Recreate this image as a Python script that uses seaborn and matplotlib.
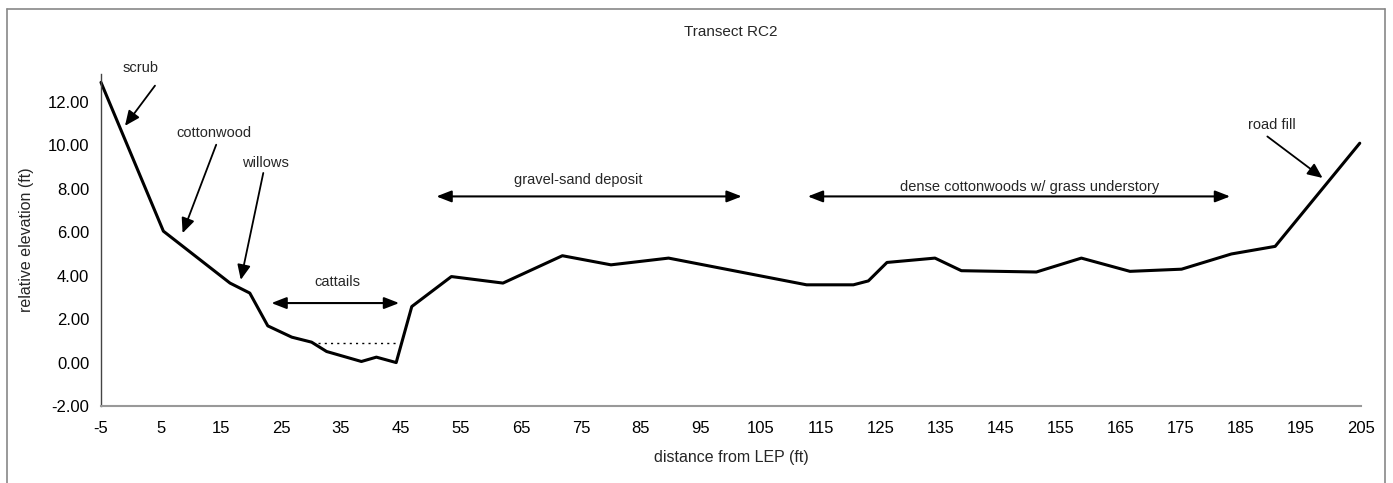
import matplotlib
matplotlib.use("Agg")
import matplotlib.pyplot as plt
import seaborn as sns
import pandas as pd
from matplotlib.lines import Line2D

# Surveyed profile along transect RC2
distance_ft = [-5, 5.4, 16.5, 19.8, 22.8, 26.8, 30.1, 32.6, 38.4, 40.9, 44.2, 46.8,
               53.4, 62.0, 71.9, 80.0, 89.6, 112.6, 120.4, 122.9, 126.0, 134.0,
               138.4, 150.9, 158.4, 166.5, 175.1, 183.4, 190.7, 204.8]
elevation_ft = [12.9, 6.05, 3.66, 3.2, 1.69, 1.17, 0.94, 0.51, 0.05, 0.25, 0.0, 2.58,
                3.96, 3.66, 4.92, 4.5, 4.81, 3.58, 3.58, 3.76, 4.61, 4.81,
                4.23, 4.17, 4.81, 4.2, 4.3, 5.0, 5.35, 10.1]

# Standing-water level in the cattail pool
water_x = [31.2, 44.5]
water_y = [0.89, 0.89]

x_ticks = list(range(-5, 206, 10))
y_ticks = [-2, 0, 2, 4, 6, 8, 10, 12]

sns.set_style("white")
plt.rcParams["font.family"] = ["Liberation Sans", "DejaVu Sans"]
plt.rcParams["axes.unicode_minus"] = False

fig = plt.figure(figsize=(13.93, 4.83), dpi=100)
ax = fig.add_axes([0.0725, 0.1594, 0.9045, 0.688])

df = pd.DataFrame({"distance": distance_ft, "elevation": elevation_ft})
sns.lineplot(data=df, x="distance", y="elevation", ax=ax, color="black",
             linewidth=2.2, sort=False, estimator=None, clip_on=False)
ax.plot(water_x, water_y, color="black", linestyle=(0, (1.5, 3)), linewidth=1.0)

ax.set_xlim(-5, 205)
ax.set_ylim(-2, 13.3)
ax.set_xticks(x_ticks)
ax.set_xticklabels([str(v) for v in x_ticks])
ax.set_yticks(y_ticks)
ax.set_yticklabels([f"{v:.2f}" for v in y_ticks])
ax.tick_params(axis="both", direction="out", length=5, width=1, color="#333333",
               labelsize=12, colors="black")
ax.tick_params(axis="x", pad=6)
for side in ("top", "right"):
    ax.spines[side].set_visible(False)
ax.spines["left"].set_color("#444444")
ax.spines["bottom"].set_color("#999999")
ax.spines["left"].set_linewidth(1.0)
ax.spines["bottom"].set_linewidth(1.5)

ax.set_xlabel("distance from LEP (ft)", fontsize=11.5, labelpad=10)
ax.set_ylabel("relative elevation (ft)", fontsize=11.5, labelpad=10)
ax.set_title("Transect RC2", fontsize=11, pad=27)

single = dict(arrowstyle="-|>,head_length=0.9,head_width=0.4", color="black",
              lw=1.3, shrinkA=0, shrinkB=0)
double = dict(arrowstyle="<|-|>,head_length=0.9,head_width=0.35", color="black",
              lw=1.5, shrinkA=0, shrinkB=0)

# Vegetation zone labels with pointing arrows
ax.text(1.6, 13.55, "scrub", ha="center", va="center", fontsize=10.5)
ax.annotate("", xy=(-1.0, 10.9), xytext=(4.0, 12.75), arrowprops=single,
            annotation_clip=False)
ax.text(13.9, 10.58, "cottonwood", ha="center", va="center", fontsize=10.5)
ax.annotate("", xy=(8.6, 5.96), xytext=(14.2, 10.03), arrowprops=single)
ax.text(22.4, 9.19, "willows", ha="center", va="center", fontsize=10.5)
ax.annotate("", xy=(18.3, 3.81), xytext=(22.05, 8.73), arrowprops=single)
ax.text(190.2, 10.95, "road fill", ha="center", va="center", fontsize=10.5)
ax.annotate("", xy=(198.6, 8.5), xytext=(189.4, 10.41), arrowprops=single)

# Zone extents shown as double-headed arrows
ax.text(34.4, 3.69, "cattails", ha="center", va="center", fontsize=10.5)
ax.annotate("", xy=(23.4, 2.74), xytext=(44.7, 2.74), arrowprops=double)
ax.text(74.6, 8.42, "gravel-sand deposit", ha="center", va="center", fontsize=10.5)
ax.annotate("", xy=(50.9, 7.65), xytext=(101.8, 7.65), arrowprops=double)
ax.text(149.7, 8.08, "dense cottonwoods w/ grass understory", ha="center",
        va="center", fontsize=10.5)
ax.annotate("", xy=(112.8, 7.65), xytext=(183.2, 7.65), arrowprops=double)

# Chart-area border
W, H = 1393, 483
border = dict(color="#888888", linewidth=1.2, transform=fig.transFigure)
fig.add_artist(Line2D([7 / W, 7 / W], [0, 1 - 9 / H], **border))
fig.add_artist(Line2D([7 / W, 1385 / W], [1 - 9 / H, 1 - 9 / H], **border))
fig.add_artist(Line2D([1385 / W, 1385 / W], [0, 1 - 9 / H], **border))

fig.savefig("out.png", dpi=100)
